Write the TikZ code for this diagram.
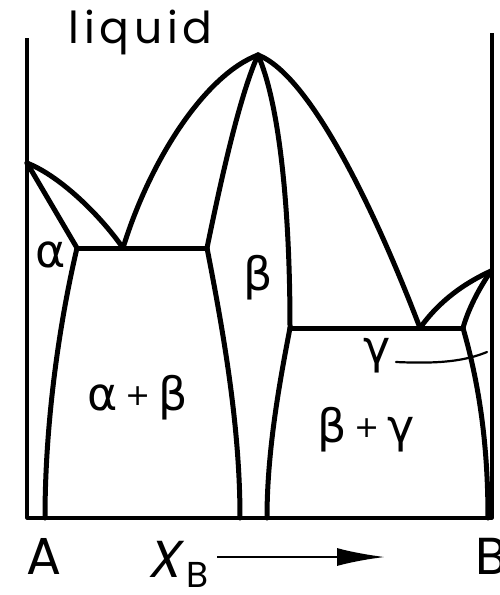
\documentclass[tikz,border=0pt]{standalone}
\usepackage{fontspec}
\setmainfont{Poppins}
\newfontfamily\greekfont{DejaVu Sans}
\newfontfamily\slantfont{Poppins}[FakeSlant=0.2]
\newfontfamily\widefont{Poppins}[LetterSpace=11]
\usepackage{tikz}
\usetikzlibrary{arrows.meta, positioning}

\begin{document}
\begin{tikzpicture}[
    x=0.5pt, y=-0.5pt,
    phase/.style={line width=2.5pt, line cap=round, line join=round},
    axisline/.style={line width=1.6pt, line join=round},
    greeklabel/.style={font=\greekfont\fontsize{23}{23}\selectfont, inner sep=0pt},
    romanlabel/.style={font=\fontsize{26}{26}\selectfont, inner sep=0pt},
    arr/.style={-{Latex[length=24pt, width=9pt]}, line width=1.3pt},
]
    \useasboundingbox[fill=white] (0,0) rectangle (499,595);

    % Axes
    \draw[axisline] (27,38) -- (27,518) -- (492,518) -- (492,33);

    % Special points
    \coordinate (TA) at (27,163);
    \coordinate (TB) at (491,271);
    \coordinate (TM) at (258,55);
    \coordinate (E1) at (123,248);
    \coordinate (E2) at (420,328);
    \coordinate (a1) at (77,248);
    \coordinate (b1) at (207,248);
    \coordinate (b2) at (290,328);
    \coordinate (g1) at (463,328);

    % Liquidus and solidus
    \draw[phase] (TA) .. controls (60,176) and (100,215) .. (E1);
    \draw[phase] (TA) -- (a1);
    \draw[phase] (E1) .. controls (150,160) and (205,75) .. (TM);
    \draw[phase] (b1) .. controls (222,175) and (240,95) .. (TM);
    \draw[phase] (TM) .. controls (278,100) and (290,200) .. (b2);
    \draw[phase] (TM) .. controls (310,75) and (375,210) .. (E2);
    \draw[phase] (TB) .. controls (465,283) and (440,300) .. (E2);
    \draw[phase] (TB) .. controls (478,290) and (468,310) .. (g1);

    % Eutectic lines
    \draw[phase] (a1) -- (b1);
    \draw[phase] (b2) -- (g1);

    % Solvus lines
    \draw[phase] (a1) .. controls (60,320) and (45,420) .. (45,518);
    \draw[phase] (b1) .. controls (225,340) and (240,430) .. (240,518);
    \draw[phase] (b2) .. controls (280,380) and (267,450) .. (267,518);
    \draw[phase] (g1) .. controls (478,380) and (488,440) .. (488,518);

    % Labels
    \node[anchor=base west, inner sep=0pt, font=\widefont\fontsize{22}{22}\selectfont] (liquid) at (68,43) {liquid};
    \node[greeklabel] (alpha) at (51,255) {α};
    \node[greeklabel] (beta) at (258,278) {β};
    \node[greeklabel] (gamma) at (377,356) {γ};
    \node[greeklabel] (ab) at (138,398) {α\,\raisebox{2.5pt}{\fontsize{15}{15}\selectfont+}\,β};
    \node[greeklabel] (bg) at (366,430) {β\,\raisebox{2.5pt}{\fontsize{15}{15}\selectfont+}\,γ};
    \coordinate (gtick) at (487,352);
    \coordinate (gstart) at (396,362);
    \draw[line width=1.1pt, line cap=round] (gstart) .. controls (440,364) and (465,361) .. (gtick);

    \node[romanlabel] (A) at (44,556) {A};
    \node[romanlabel, anchor=west] (B) at (475,556) {B};
    \node[romanlabel, font=\slantfont\fontsize{26}{26}\selectfont] (X) at (164,559) {X};
    \node[anchor=west, inner sep=0pt, font=\fontsize{18}{18}\selectfont] (Xsub) at (186,575) {B};

    % Composition arrow
    \coordinate (arrowstart) at (217,557);
    \coordinate (arrowend) at (385,557);
    \draw[arr] (arrowstart) -- (arrowend);
\end{tikzpicture}
\end{document}
